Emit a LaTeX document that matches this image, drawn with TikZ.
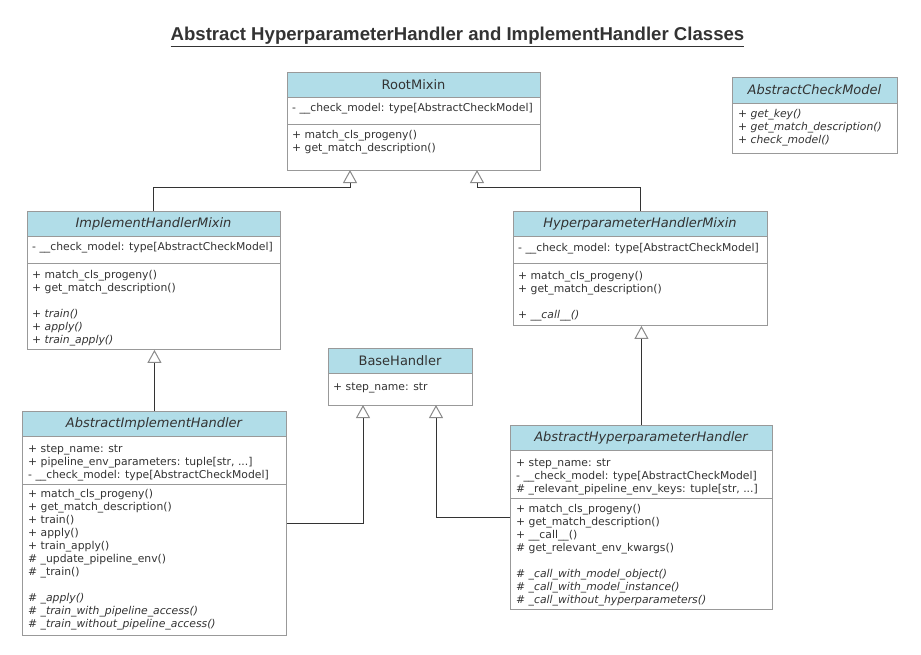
\documentclass[tikz,border=0pt]{standalone}
\usepackage{fontspec}
\setmainfont{DejaVu Sans}
\newfontfamily\titlef{Liberation Sans}
\usetikzlibrary{arrows.meta,calc}
\definecolor{hdrfill}{HTML}{B1DDE8}
\definecolor{bordercol}{HTML}{999999}
\definecolor{textcol}{HTML}{333333}
\definecolor{linecol}{HTML}{333333}
\begin{document}
\begin{tikzpicture}[x=1pt,y=-1pt,
  cls/.style={draw=bordercol, line width=0.9pt, inner sep=0pt, anchor=north west, fill=white},
  hdr/.style={draw=bordercol, line width=0.9pt, fill=hdrfill},
  divline/.style={draw=bordercol, line width=0.9pt},
  hdrtxt/.style={inner sep=0pt, text=textcol, font=\fontsize{13}{15}\selectfont},
  txt/.style={anchor=base west, inner sep=0pt, text=textcol, font=\fontsize{10.8}{13}\selectfont},
  inh/.style={draw=linecol, line width=1pt, -{Triangle[width=14pt,length=13pt,fill=white,color=bordercol!90!black]}}
]
\useasboundingbox (0,0) rectangle (921,654);

% title
\node[inner sep=0pt, text=textcol, font=\titlef\bfseries\fontsize{18.6}{22}\selectfont] (title) at (457.5,37)
  {\underline{Abstract HyperparameterHandler and ImplementHandler Classes}};

% RootMixin
\node[cls, minimum width=253pt, minimum height=98pt] (root) at (287,72) {};
\draw[hdr] (287,72) rectangle (540,97);
\draw[divline] (287,124) -- (540,124);
\node[hdrtxt] (rootT) at (413.5,84.5) {RootMixin};
\node[txt] (rootA) at (292,111) {\parbox[t]{250pt}{\raggedright - \_\_check\_model: type[AbstractCheckModel]}};
\node[txt] (rootM) at (292,138) {\parbox[t]{250pt}{\raggedright + match\_cls\_progeny()\\+ get\_match\_description()}};

% AbstractCheckModel
\node[cls, minimum width=165pt, minimum height=76pt] (acm) at (732,77) {};
\draw[hdr] (732,77) rectangle (897,103);
\node[hdrtxt, font=\fontsize{13}{15}\selectfont\itshape] (acmT) at (814.5,90) {AbstractCheckModel};
\node[txt] (acmM) at (738,117) {\parbox[t]{160pt}{\raggedright\itshape + get\_key()\\+ get\_match\_description()\\+ check\_model()}};

% ImplementHandlerMixin
\node[cls, minimum width=253pt, minimum height=138pt] (imh) at (27,211) {};
\draw[hdr] (27,211) rectangle (280,236);
\draw[divline] (27,263) -- (280,263);
\node[hdrtxt, font=\fontsize{13}{15}\selectfont\itshape] (imhT) at (153.5,223.5) {ImplementHandlerMixin};
\node[txt] (imhA) at (32,250) {\parbox[t]{250pt}{\raggedright - \_\_check\_model: type[AbstractCheckModel]}};
\node[txt] (imhM) at (32,278) {\parbox[t]{250pt}{\raggedright + match\_cls\_progeny()\\+ get\_match\_description()\\[13pt]
  \itshape + train()\\+ apply()\\+ train\_apply()}};

% HyperparameterHandlerMixin
\node[cls, minimum width=254pt, minimum height=114pt] (hhm) at (513,211) {};
\draw[hdr] (513,211) rectangle (767,236);
\draw[divline] (513,263) -- (767,263);
\node[hdrtxt, font=\fontsize{13}{15}\selectfont\itshape] (hhmT) at (640,223.5) {HyperparameterHandlerMixin};
\node[txt] (hhmA) at (518,251) {\parbox[t]{250pt}{\raggedright - \_\_check\_model: type[AbstractCheckModel]}};
\node[txt] (hhmM) at (518,279) {\parbox[t]{250pt}{\raggedright + match\_cls\_progeny()\\+ get\_match\_description()\\[13pt]
  \itshape + \_\_call\_\_()}};

% BaseHandler
\node[cls, minimum width=144pt, minimum height=57pt] (base) at (328,348) {};
\draw[hdr] (328,348) rectangle (472,373);
\node[hdrtxt] (baseT) at (400,360.5) {BaseHandler};
\node[txt] (baseA) at (333,390) {\parbox[t]{140pt}{\raggedright + step\_name: str}};

% AbstractImplementHandler
\node[cls, minimum width=264pt, minimum height=224pt] (aih) at (22,411) {};
\draw[hdr] (22,411) rectangle (286,436);
\draw[divline] (22,484) -- (286,484);
\node[hdrtxt, font=\fontsize{13}{15}\selectfont\itshape] (aihT) at (154,423.5) {AbstractImplementHandler};
\node[txt] (aihA) at (28,452) {\parbox[t]{260pt}{\raggedright + step\_name: str\\+ pipeline\_env\_parameters: tuple[str, ...]\\- \_\_check\_model: type[AbstractCheckModel]}};
\node[txt] (aihM) at (28,497) {\parbox[t]{260pt}{\raggedright + match\_cls\_progeny()\\+ get\_match\_description()\\+ train()\\+ apply()\\+ train\_apply()\\\# \_update\_pipeline\_env()\\\# \_train()\\[13pt]
  \itshape \# \_apply()\\\# \_train\_with\_pipeline\_access()\\\# \_train\_without\_pipeline\_access()}};

% AbstractHyperparameterHandler
\node[cls, minimum width=262pt, minimum height=184pt] (ahh) at (510,425) {};
\draw[hdr] (510,425) rectangle (772,450);
\draw[divline] (510,498) -- (772,498);
\node[hdrtxt, font=\fontsize{13}{15}\selectfont\itshape] (ahhT) at (641,437.5) {AbstractHyperparameterHandler};
\node[txt] (ahhA) at (516,466) {\parbox[t]{260pt}{\raggedright + step\_name: str\\- \_\_check\_model: type[AbstractCheckModel]\\\# \_relevant\_pipeline\_env\_keys: tuple[str, ...]}};
\node[txt] (ahhM) at (516,512) {\parbox[t]{260pt}{\raggedright + match\_cls\_progeny()\\+ get\_match\_description()\\+ \_\_call\_\_()\\\# get\_relevant\_env\_kwargs()\\[13pt]
  \itshape \# \_call\_with\_model\_object()\\\# \_call\_with\_model\_instance()\\\# \_call\_without\_hyperparameters()}};

% connectors
\coordinate (t1) at (350,170);
\coordinate (t2) at (477,170);
\coordinate (t3) at (363,405);
\coordinate (t4) at (436,405);
\draw[inh] (imh.north) -- ++(0,-24) -| (t1);
\draw[inh] (hhm.north) -- ++(0,-24) -| (t2);
\draw[inh] (aih.north) -- (aih.north |- imh.south);
\draw[inh] (ahh.north) -- (ahh.north |- hhm.south);
\draw[inh] (aih.east |- 0,523) -| (t3);
\draw[inh] (ahh.west |- 0,517) -| (t4);
\end{tikzpicture}
\end{document}
